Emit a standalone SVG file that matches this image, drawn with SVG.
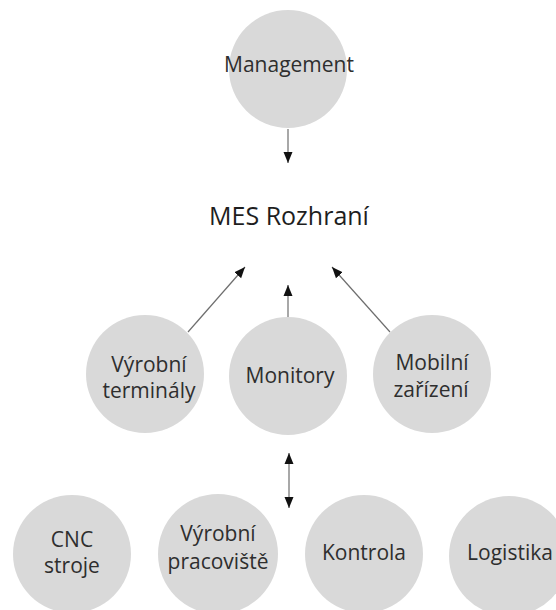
<svg xmlns="http://www.w3.org/2000/svg" width="556" height="610" viewBox="0 0 556 610">
  <style>
    .node { fill: #d9d9d9; }
    .label { font-family: "Open Sans", "Noto Sans", "DejaVu Sans", sans-serif; font-size: 21px; fill: #2e2e2e; text-anchor: middle; }
    .title { font-size: 25px; fill: #1e1e1e; }
    .edge { stroke: #6e6e6e; stroke-width: 1.2; fill: none; }
  </style>
  <defs>
    <marker id="head" markerUnits="userSpaceOnUse" markerWidth="12" markerHeight="12" viewBox="0 0 12 12" refX="11" refY="6" orient="auto-start-reverse">
      <path d="M0,1.5 L11,6 L0,10.5 Z" fill="#111"/>
    </marker>
  </defs>
  <rect width="556" height="610" fill="#ffffff"/>

  <g id="connectors">
    <line class="edge" x1="288" y1="129" x2="288" y2="163" marker-end="url(#head)"/>
    <line class="edge" x1="188" y1="332" x2="245" y2="267" marker-end="url(#head)"/>
    <line class="edge" x1="288" y1="317" x2="288" y2="285" marker-end="url(#head)"/>
    <line class="edge" x1="390" y1="332" x2="332" y2="267" marker-end="url(#head)"/>
    <line class="edge" x1="289" y1="453" x2="289" y2="508" marker-start="url(#head)" marker-end="url(#head)"/>
  </g>

  <g id="management">
    <circle class="node" cx="288" cy="69" r="59"/>
    <text class="label" x="289" y="72">Management</text>
  </g>

  <g id="mes-rozhrani">
    <text class="label title" x="289" y="225">MES Rozhraní</text>
  </g>

  <g id="vyrobni-terminaly">
    <circle class="node" cx="145" cy="374" r="59"/>
    <text class="label" x="149" y="372">Výrobní</text>
    <text class="label" x="149" y="398">terminály</text>
  </g>

  <g id="monitory">
    <circle class="node" cx="288" cy="376" r="59"/>
    <text class="label" x="290" y="383">Monitory</text>
  </g>

  <g id="mobilni-zarizeni">
    <circle class="node" cx="432" cy="374" r="59"/>
    <text class="label" x="432" y="370">Mobilní</text>
    <text class="label" x="431" y="397">zařízení</text>
  </g>

  <g id="cnc-stroje">
    <circle class="node" cx="72" cy="554" r="59"/>
    <text class="label" x="72" y="547">CNC</text>
    <text class="label" x="72" y="573">stroje</text>
  </g>

  <g id="vyrobni-pracoviste">
    <circle class="node" cx="218" cy="554" r="60"/>
    <text class="label" x="218" y="541">Výrobní</text>
    <text class="label" x="218" y="569">pracoviště</text>
  </g>

  <g id="kontrola">
    <circle class="node" cx="364" cy="554" r="59"/>
    <text class="label" x="364" y="560">Kontrola</text>
  </g>

  <g id="logistika">
    <circle class="node" cx="509" cy="556" r="60"/>
    <text class="label" x="510" y="560">Logistika</text>
  </g>
</svg>
